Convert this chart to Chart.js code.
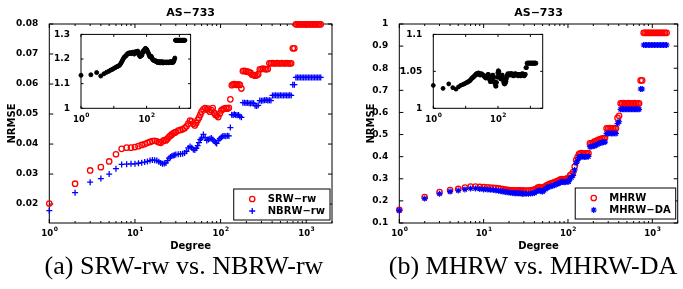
<!DOCTYPE html>
<html>
<head>
<meta charset="utf-8">
<script src="https://cdn.jsdelivr.net/npm/chart.js@4/dist/chart.umd.min.js"></script>
<style>
  body { margin: 0; background: #fff; width: 683px; height: 289px; overflow: hidden; position: relative; }
  canvas { position: absolute; }
  .cap { position: absolute; font-family: 'Liberation Serif', serif; font-size: 26px; line-height: 1;
         white-space: nowrap; transform: translateX(-50%); color: #000; }
</style>
</head>
<body>
<canvas id="mainA" width="340" height="253" style="left:0;top:0"></canvas>
<canvas id="mainB" width="325" height="253" style="left:358px;top:0"></canvas>
<canvas id="insetA" width="150" height="100" style="left:50px;top:26px"></canvas>
<canvas id="insetB" width="155" height="100" style="left:395px;top:26px"></canvas>
<div class="cap" style="left:184px;top:253px">(a) SRW-rw vs. NBRW-rw</div>
<div class="cap" style="left:533px;top:253px">(b) MHRW vs. MHRW-DA</div>
<script>
// degrees present in the graph (shared x values of both panels)
const degree = [
  1, 2, 3, 4, 5, 6, 7, 8, 9, 10,
  11, 12, 13, 14, 15, 16, 17, 18, 19, 20,
  21, 22, 23, 24, 25, 26, 27, 28, 29, 30,
  32, 34, 36, 38, 40, 42, 44, 46, 48, 50,
  52, 54, 56, 58, 60, 63, 66, 69, 72, 75,
  78, 81, 84, 87, 90, 94, 98, 102, 106, 110,
  115, 120, 125, 130, 135, 140, 145, 150, 156, 162,
  168, 175, 182, 190, 198, 206, 215, 224, 233, 243,
  253, 264, 275, 287, 300, 313, 327, 341, 356, 371,
  387, 404, 421, 439, 458, 478, 499, 520, 543, 566,
  590, 615, 641, 668, 697, 727, 758, 790, 824, 859,
  896, 934, 974, 1016, 1060, 1105, 1152, 1201, 1252, 1305,
  1360, 1418, 1478
];

// (a) NRMSE
const srwRw = [
  0.0202, 0.0268, 0.0312, 0.0323, 0.0342, 0.0366, 0.0384, 0.0388, 0.0388, 0.0390,
  0.0393, 0.0397, 0.0400, 0.0404, 0.0407, 0.0410, 0.0411, 0.0409, 0.0406, 0.0404,
  0.0409, 0.0413, 0.0412, 0.0418, 0.0424, 0.0428, 0.0432, 0.0436, 0.0438, 0.0440,
  0.0445, 0.0447, 0.0449, 0.0453, 0.0459, 0.0468, 0.0478, 0.0476, 0.0468, 0.0462,
  0.0470, 0.0480, 0.0488, 0.0498, 0.0508, 0.0516, 0.0520, 0.0515, 0.0518, 0.0508,
  0.0513, 0.0520, 0.0504, 0.0498, 0.0495, 0.0490, 0.0502, 0.0512, 0.0516, 0.0518,
  0.0520, 0.0518, 0.0521, 0.0549, 0.0596, 0.0599, 0.0600, 0.0598, 0.0597, 0.0599,
  0.0597, 0.0585, 0.0643, 0.0644, 0.0642, 0.0641, 0.0640, 0.0637, 0.0631, 0.0630,
  0.0628, 0.0629, 0.0633, 0.0649, 0.0650, 0.0651, 0.0650, 0.0649, 0.0650, 0.0669,
  0.0669, 0.0670, 0.0669, 0.0669, 0.0670, 0.0669, 0.0669, 0.0670, 0.0669, 0.0669,
  0.0670, 0.0669, 0.0669, 0.0669, 0.0719, 0.0719, 0.0799, 0.0799, 0.0799, 0.0799,
  0.0799, 0.0799, 0.0799, 0.0799, 0.0799, 0.0799, 0.0799, 0.0799, 0.0799, 0.0799,
  0.0799, 0.0799, 0.0799
];
const nbrwRw = [
  0.0178, 0.0238, 0.0273, 0.0285, 0.0300, 0.0318, 0.0332, 0.0333, 0.0334, 0.0334,
  0.0336, 0.0338, 0.0340, 0.0342, 0.0345, 0.0347, 0.0346, 0.0345, 0.0341, 0.0337,
  0.0334, 0.0335, 0.0337, 0.0345, 0.0353, 0.0357, 0.0360, 0.0362, 0.0363, 0.0365,
  0.0366, 0.0367, 0.0368, 0.0370, 0.0376, 0.0387, 0.0392, 0.0388, 0.0382, 0.0380,
  0.0386, 0.0395, 0.0405, 0.0415, 0.0420, 0.0432, 0.0422, 0.0412, 0.0415, 0.0418,
  0.0420, 0.0415, 0.0410, 0.0405, 0.0402, 0.0412, 0.0418, 0.0423, 0.0426, 0.0427,
  0.0426, 0.0428, 0.0427, 0.0455, 0.0498, 0.0497, 0.0499, 0.0497, 0.0496, 0.0497,
  0.0492, 0.0489, 0.0538, 0.0538, 0.0537, 0.0538, 0.0536, 0.0535, 0.0537, 0.0536,
  0.0528, 0.0527, 0.0529, 0.0545, 0.0544, 0.0545, 0.0546, 0.0547, 0.0545, 0.0546,
  0.0545, 0.0562, 0.0562, 0.0563, 0.0562, 0.0562, 0.0563, 0.0562, 0.0562, 0.0563,
  0.0562, 0.0562, 0.0563, 0.0562, 0.0598, 0.0598, 0.0622, 0.0622, 0.0622, 0.0622,
  0.0622, 0.0622, 0.0622, 0.0622, 0.0622, 0.0622, 0.0622, 0.0622, 0.0622, 0.0622,
  0.0622, 0.0622, 0.0622
];
// (a) inset: SRW-rw / NBRW-rw
const ratioA = [
  1.134, 1.136, 1.145, 1.131, 1.140, 1.146, 1.150, 1.155, 1.158, 1.162,
  1.165, 1.168, 1.170, 1.172, 1.175, 1.180, 1.186, 1.192, 1.198, 1.204,
  1.208, 1.210, 1.212, 1.215, 1.218, 1.220, 1.222, 1.224, 1.222, 1.224,
  1.226, 1.222, 1.225, 1.228, 1.224, 1.220, 1.226, 1.230, 1.228, 1.225,
  1.230, 1.232, 1.228, 1.222, 1.215, 1.210, 1.212, 1.220, 1.215, 1.225,
  1.232, 1.228, 1.235, 1.238, 1.242, 1.243, 1.240, 1.238, 1.232, 1.228,
  1.222, 1.215, 1.210, 1.208, 1.212, 1.210, 1.205, 1.200, 1.198, 1.195,
  1.195, 1.193, 1.192, 1.193, 1.190, 1.188, 1.186, 1.188, 1.190, 1.185,
  1.186, 1.185, 1.188, 1.190, 1.186, 1.184, 1.188, 1.185, 1.187, 1.186,
  1.188, 1.185, 1.186, 1.188, 1.185, 1.187, 1.186, 1.188, 1.190, 1.186,
  1.187, 1.188, 1.186, 1.190, 1.196, 1.204, 1.276, 1.276, 1.276, 1.276,
  1.276, 1.276, 1.276, 1.276, 1.276, 1.276, 1.276, 1.276, 1.276, 1.276,
  1.276, 1.276, 1.276
];

// (b) NRMSE
const mhrw = [
  0.160, 0.217, 0.240, 0.249, 0.254, 0.260, 0.265, 0.265, 0.263, 0.262,
  0.261, 0.260, 0.259, 0.258, 0.257, 0.255, 0.253, 0.251, 0.250, 0.249,
  0.248, 0.248, 0.247, 0.247, 0.247, 0.248, 0.248, 0.247, 0.246, 0.246,
  0.246, 0.247, 0.248, 0.249, 0.251, 0.255, 0.260, 0.262, 0.258, 0.257,
  0.262, 0.266, 0.270, 0.273, 0.276, 0.279, 0.282, 0.284, 0.287, 0.290,
  0.293, 0.296, 0.298, 0.297, 0.296, 0.298, 0.302, 0.300, 0.316, 0.320,
  0.330, 0.355, 0.385, 0.398, 0.412, 0.415, 0.416, 0.415, 0.414, 0.415,
  0.415, 0.416, 0.460, 0.461, 0.462, 0.468, 0.470, 0.474, 0.477, 0.480,
  0.482, 0.483, 0.485, 0.528, 0.528, 0.529, 0.528, 0.528, 0.529, 0.528,
  0.575, 0.585, 0.641, 0.641, 0.642, 0.641, 0.641, 0.642, 0.641, 0.641,
  0.641, 0.642, 0.641, 0.641, 0.641, 0.745, 0.745, 0.960, 0.960, 0.960,
  0.960, 0.960, 0.960, 0.960, 0.960, 0.960, 0.960, 0.960, 0.960, 0.960,
  0.960, 0.960, 0.960
];
const mhrwDa = [
  0.157, 0.211, 0.232, 0.242, 0.247, 0.252, 0.256, 0.256, 0.254, 0.252,
  0.251, 0.250, 0.249, 0.247, 0.246, 0.244, 0.242, 0.240, 0.239, 0.238,
  0.237, 0.236, 0.235, 0.235, 0.234, 0.234, 0.234, 0.233, 0.232, 0.232,
  0.232, 0.232, 0.233, 0.234, 0.236, 0.241, 0.246, 0.248, 0.244, 0.242,
  0.248, 0.253, 0.258, 0.262, 0.264, 0.266, 0.269, 0.271, 0.274, 0.277,
  0.280, 0.283, 0.286, 0.285, 0.284, 0.285, 0.288, 0.287, 0.302, 0.306,
  0.315, 0.340, 0.370, 0.383, 0.397, 0.400, 0.401, 0.400, 0.399, 0.400,
  0.400, 0.401, 0.445, 0.446, 0.447, 0.449, 0.452, 0.456, 0.459, 0.462,
  0.464, 0.465, 0.466, 0.505, 0.505, 0.506, 0.505, 0.505, 0.506, 0.505,
  0.550, 0.558, 0.614, 0.614, 0.615, 0.614, 0.614, 0.615, 0.614, 0.614,
  0.614, 0.615, 0.614, 0.614, 0.614, 0.706, 0.706, 0.905, 0.905, 0.905,
  0.905, 0.905, 0.905, 0.905, 0.905, 0.905, 0.905, 0.905, 0.905, 0.905,
  0.905, 0.905, 0.905
];
// (b) inset: MHRW / MHRW-DA
const ratioB = [
  1.031, 1.027, 1.033, 1.028, 1.026, 1.029, 1.031, 1.032, 1.033, 1.034,
  1.035, 1.036, 1.037, 1.038, 1.040, 1.041, 1.042, 1.043, 1.044, 1.045,
  1.046, 1.047, 1.046, 1.047, 1.048, 1.047, 1.046, 1.045, 1.046, 1.047,
  1.046, 1.045, 1.044, 1.043, 1.042, 1.041, 1.043, 1.044, 1.045, 1.046,
  1.044, 1.040, 1.038, 1.036, 1.038, 1.040, 1.043, 1.045, 1.042, 1.036,
  1.036, 1.033, 1.030, 1.030, 1.035, 1.042, 1.048, 1.051, 1.050, 1.046,
  1.042, 1.040, 1.042, 1.044, 1.045, 1.042, 1.038, 1.035, 1.033, 1.033,
  1.034, 1.036, 1.040, 1.044, 1.046, 1.047, 1.046, 1.045, 1.046, 1.047,
  1.045, 1.047, 1.046, 1.045, 1.044, 1.046, 1.045, 1.047, 1.045, 1.046,
  1.045, 1.046, 1.044, 1.045, 1.046, 1.045, 1.044, 1.046, 1.045, 1.047,
  1.045, 1.046, 1.044, 1.045, 1.046, 1.055, 1.055, 1.061, 1.061, 1.061,
  1.061, 1.061, 1.061, 1.061, 1.061, 1.061, 1.061, 1.061, 1.061, 1.061,
  1.061, 1.061, 1.061
];

// tick labels
const xDecades = [1, 10, 100, 1000];
const insetDecades = [1, 100];
const yTicksA = [0.02, 0.03, 0.04, 0.05, 0.06, 0.07, 0.08];
const yTicksB = [0.1, 0.2, 0.3, 0.4, 0.5, 0.6, 0.7, 0.8, 0.9, 1];
const yTicksInsetA = [1, 1.1, 1.2, 1.3];
const yTicksInsetB = [1, 1.05, 1.1];

const FONT = 'DejaVu Sans';
const pts = ys => degree.map((d, i) => ({ x: d, y: ys[i] }));

function series(label, ys, color, style, r, bw, fill) {
  return {
    label: label, data: pts(ys), showLine: false, clip: false,
    pointStyle: style, pointRadius: r, radius: r,
    borderColor: color, pointBorderColor: color,
    backgroundColor: fill || 'rgba(0,0,0,0)', pointBackgroundColor: fill || 'rgba(0,0,0,0)',
    borderWidth: bw, pointBorderWidth: bw
  };
}

// matlab-like box, inward ticks, 10^n labels, title and legend
const matlabAxes = {
  id: 'matlabAxes',
  beforeDraw(chart) {
    const { ctx, chartArea: a } = chart;
    ctx.save();
    ctx.fillStyle = '#fff';
    ctx.fillRect(a.left, a.top, a.width, a.height);
    ctx.restore();
  },
  beforeDatasetsDraw(chart, args, o) {
    const { ctx, chartArea: a, scales: { x, y } } = chart;
    ctx.save();
    ctx.strokeStyle = '#000';
    ctx.lineWidth = 1;
    ctx.strokeRect(a.left, a.top, a.width, a.height);
    ctx.beginPath();
    o.yTicks.forEach(v => {
      const p = y.getPixelForValue(v);
      ctx.moveTo(a.left, p); ctx.lineTo(a.left + o.tick, p);
      ctx.moveTo(a.right, p); ctx.lineTo(a.right - o.tick, p);
    });
    for (let d = 1; d <= x.max; d *= 10) {
      for (let k = 1; k <= 9; k++) {
        const v = d * k;
        if (v > x.max) break;
        const len = k === 1 ? o.tick : o.minorTick;
        if (!len) continue;
        const p = x.getPixelForValue(v);
        ctx.moveTo(p, a.bottom); ctx.lineTo(p, a.bottom - len);
        ctx.moveTo(p, a.top); ctx.lineTo(p, a.top + len);
      }
    }
    ctx.stroke();

    ctx.fillStyle = '#000';
    ctx.textBaseline = 'alphabetic';
    ctx.textAlign = 'left';
    o.xLabels.forEach(v => {
      const p = x.getPixelForValue(v);
      const e = String(Math.round(Math.log10(v)));
      ctx.font = 'bold ' + o.baseSize + 'px ' + FONT;
      const w1 = ctx.measureText('10').width;
      ctx.font = 'bold ' + o.supSize + 'px ' + FONT;
      const w2 = ctx.measureText(e).width;
      const x0 = p - (w1 + w2) / 2;
      ctx.font = 'bold ' + o.baseSize + 'px ' + FONT;
      ctx.fillText('10', x0, a.bottom + o.labelDy);
      ctx.font = 'bold ' + o.supSize + 'px ' + FONT;
      ctx.fillText(e, x0 + w1 + 0.5, a.bottom + o.labelDy - o.supRise);
    });
    ctx.restore();
  },
  afterDraw(chart, args, o) {
    const { ctx, chartArea: a } = chart;
    ctx.save();
    if (o.title) {
      ctx.font = 'bold 11px ' + FONT;
      ctx.fillStyle = '#000';
      ctx.textAlign = 'center';
      ctx.textBaseline = 'alphabetic';
      ctx.fillText(o.title, (a.left + a.right) / 2, a.top - 8);
    }
    if (o.legend) {
      const ds = chart.data.datasets;
      ctx.font = 'bold 10px ' + FONT;
      const tw = Math.max(...ds.map(d => ctx.measureText(d.label).width));
      const w = 34 + tw + 5, h = 31;
      const right = a.right - 2, bottom = a.bottom - o.legend.dy;
      const left = right - w, top = bottom - h;
      ctx.fillStyle = '#fff';
      ctx.fillRect(left, top, w, h);
      ctx.strokeStyle = '#000';
      ctx.lineWidth = 1;
      ctx.strokeRect(left, top, w, h);
      ds.forEach((d, i) => {
        const cy = top + 10 + i * 12;
        ctx.strokeStyle = d.borderColor;
        ctx.fillStyle = d.backgroundColor;
        ctx.lineWidth = d.borderWidth;
        Chart.helpers.drawPoint(ctx, { pointStyle: d.pointStyle, radius: d.pointRadius, borderWidth: d.borderWidth, rotation: 0 }, left + 18.5, cy);
        ctx.fillStyle = '#000';
        ctx.textAlign = 'left';
        ctx.textBaseline = 'middle';
        ctx.fillText(d.label, left + 34, cy + 0.5);
      });
    }
    ctx.restore();
  }
};

function makeChart(id, c) {
  const cv = document.getElementById(id);
  const W = cv.width, H = cv.height;
  const titleFont = { family: FONT, weight: 'bold', size: 10 };
  return new Chart(cv, {
    type: 'scatter',
    data: { datasets: c.datasets },
    options: {
      responsive: false,
      animation: false,
      devicePixelRatio: 1,
      events: [],
      layout: { padding: { left: 0, top: c.box.top, right: W - c.box.right, bottom: 0 } },
      plugins: {
        legend: { display: false },
        tooltip: { enabled: false },
        matlabAxes: Object.assign({ yTicks: c.yTicks }, c.axes)
      },
      scales: {
        x: {
          type: 'logarithmic', min: c.xMin, max: c.xMax,
          grid: { display: false }, border: { display: false },
          ticks: { display: false },
          title: c.xTitle
            ? { display: true, text: c.xTitle, color: '#000', font: titleFont, padding: { top: 0, bottom: 1 } }
            : { display: false },
          afterFit: s => { s.height = H - c.box.bottom; }
        },
        y: {
          type: 'linear', min: c.yMin, max: c.yMax,
          grid: { display: false }, border: { display: false },
          ticks: {
            color: '#000', padding: 3, autoSkip: false,
            font: { family: FONT, weight: 'bold', size: 9 },
            callback: v => String(v)
          },
          afterBuildTicks: s => { s.ticks = c.yTicks.map(v => ({ value: v })); },
          title: c.yTitle
            ? { display: true, text: c.yTitle, color: '#000', font: titleFont, padding: { top: c.yTitlePad, bottom: 0 } }
            : { display: false },
          afterFit: s => { s.width = c.box.left; }
        }
      }
    },
    plugins: [matlabAxes]
  });
}

const red = '#ff0000', blue = '#0000ff';

makeChart('mainA', {
  box: { left: 49.3, top: 24, right: 332, bottom: 223 },
  xMin: 1, xMax: 2000, yMin: 0.0137, yMax: 0.08,
  yTicks: yTicksA, xTitle: 'Degree', yTitle: 'NRMSE', yTitlePad: 6.5,
  axes: { tick: 4, minorTick: 2, xLabels: xDecades, baseSize: 8.5, supSize: 6, labelDy: 12.5, supRise: 5,
          title: 'AS\u2212733', legend: { dy: 3 } },
  datasets: [
    Object.assign(series('SRW\u2212rw', srwRw, red, 'circle', 2.7, 1.3), { order: 1 }),
    Object.assign(series('NBRW\u2212rw', nbrwRw, blue, 'cross', 3, 1.3), { order: 0 })
  ]
});

makeChart('mainB', {
  box: { left: 41.3, top: 24, right: 323, bottom: 223 },
  xMin: 1, xMax: 2000, yMin: 0.1, yMax: 1,
  yTicks: yTicksB, xTitle: 'Degree', yTitle: 'NRMSE', yTitlePad: 7,
  axes: { tick: 4, minorTick: 2, xLabels: xDecades, baseSize: 8.5, supSize: 6, labelDy: 12.5, supRise: 5,
          title: 'AS\u2212733', legend: { dy: 4 } },
  datasets: [
    Object.assign(series('MHRW', mhrw, red, 'circle', 2.7, 1.3), { order: 1 }),
    Object.assign(series('MHRW\u2212DA', mhrwDa, blue, 'star', 3, 1.2), { order: 0 })
  ]
});

makeChart('insetA', {
  box: { left: 31, top: 6.3, right: 140.6, bottom: 82.3 },
  xMin: 1, xMax: 2200, yMin: 1, yMax: 1.3,
  yTicks: yTicksInsetA,
  axes: { tick: 2.5, minorTick: 0, xLabels: insetDecades, baseSize: 8.5, supSize: 6, labelDy: 13.5, supRise: 5 },
  datasets: [series('ratio', ratioA, '#000', 'circle', 2, 1, '#000')]
});

makeChart('insetB', {
  box: { left: 38.3, top: 7.3, right: 147.7, bottom: 82.3 },
  xMin: 1, xMax: 2400, yMin: 1, yMax: 1.1,
  yTicks: yTicksInsetB,
  axes: { tick: 2.5, minorTick: 0, xLabels: insetDecades, baseSize: 8.5, supSize: 6, labelDy: 13.5, supRise: 5 },
  datasets: [series('ratio', ratioB, '#000', 'star', 2.4, 1.4)]
});
</script>
</body>
</html>
